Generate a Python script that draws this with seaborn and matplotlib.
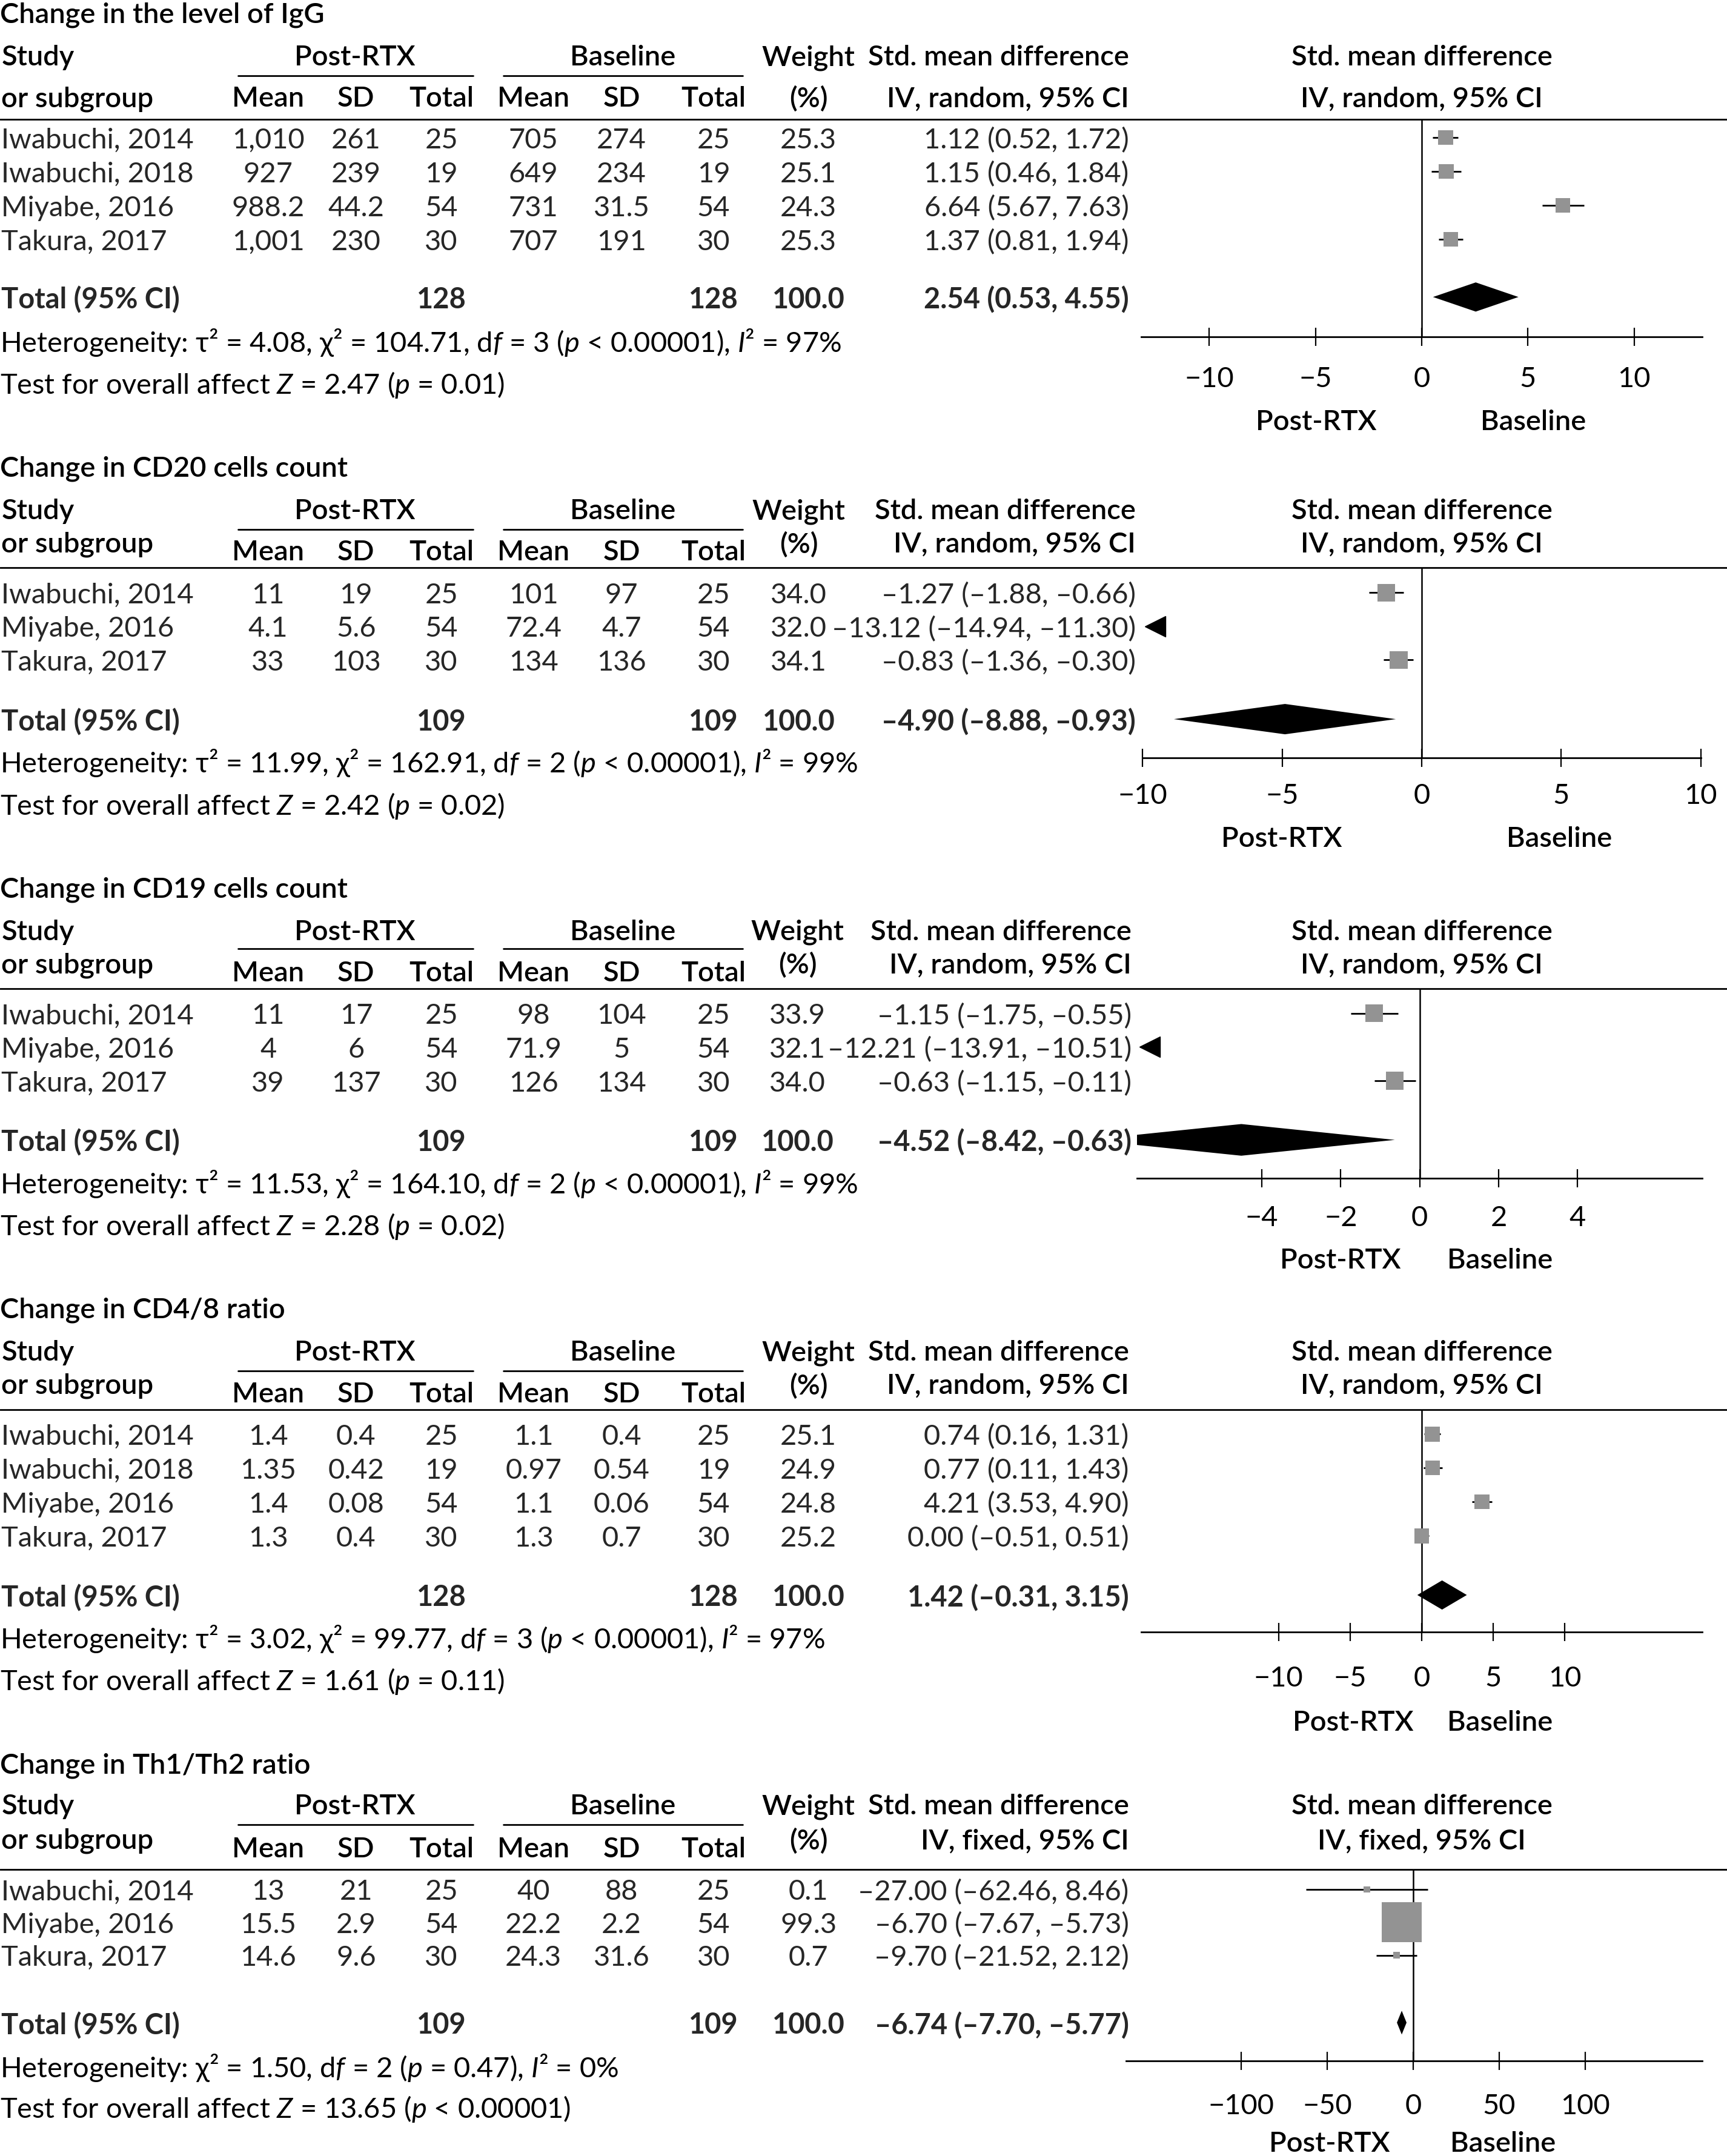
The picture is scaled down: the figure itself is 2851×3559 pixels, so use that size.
import matplotlib
matplotlib.use("Agg")
import matplotlib.pyplot as plt
import seaborn as sns
import pandas as pd
from matplotlib.transforms import blended_transform_factory, ScaledTranslation
from matplotlib.lines import Line2D

# ---------------- data ----------------
studies4 = ["Iwabuchi, 2014", "Iwabuchi, 2018", "Miyabe, 2016", "Takura, 2017"]
studies3 = ["Iwabuchi, 2014", "Miyabe, 2016", "Takura, 2017"]

# Change in the level of IgG
igg_post_mean = ["1,010", "927", "988.2", "1,001"]
igg_post_sd = ["261", "239", "44.2", "230"]
igg_post_n = [25, 19, 54, 30]
igg_base_mean = ["705", "649", "731", "707"]
igg_base_sd = ["274", "234", "31.5", "191"]
igg_base_n = [25, 19, 54, 30]
igg_weight = [25.3, 25.1, 24.3, 25.3]
igg_smd = [1.12, 1.15, 6.64, 1.37]
igg_lo = [0.52, 0.46, 5.67, 0.81]
igg_hi = [1.72, 1.84, 7.63, 1.94]
igg_total = [2.54, 0.53, 4.55]

# Change in CD20 cells count
cd20_post_mean = ["11", "4.1", "33"]
cd20_post_sd = ["19", "5.6", "103"]
cd20_post_n = [25, 54, 30]
cd20_base_mean = ["101", "72.4", "134"]
cd20_base_sd = ["97", "4.7", "136"]
cd20_base_n = [25, 54, 30]
cd20_weight = [34.0, 32.0, 34.1]
cd20_smd = [-1.27, -13.12, -0.83]
cd20_lo = [-1.88, -14.94, -1.36]
cd20_hi = [-0.66, -11.30, -0.30]
cd20_total = [-4.90, -8.88, -0.93]

# Change in CD19 cells count
cd19_post_mean = ["11", "4", "39"]
cd19_post_sd = ["17", "6", "137"]
cd19_post_n = [25, 54, 30]
cd19_base_mean = ["98", "71.9", "126"]
cd19_base_sd = ["104", "5", "134"]
cd19_base_n = [25, 54, 30]
cd19_weight = [33.9, 32.1, 34.0]
cd19_smd = [-1.15, -12.21, -0.63]
cd19_lo = [-1.75, -13.91, -1.15]
cd19_hi = [-0.55, -10.51, -0.11]
cd19_total = [-4.52, -8.42, -0.63]

# Change in CD4/8 ratio
cd48_post_mean = ["1.4", "1.35", "1.4", "1.3"]
cd48_post_sd = ["0.4", "0.42", "0.08", "0.4"]
cd48_post_n = [25, 19, 54, 30]
cd48_base_mean = ["1.1", "0.97", "1.1", "1.3"]
cd48_base_sd = ["0.4", "0.54", "0.06", "0.7"]
cd48_base_n = [25, 19, 54, 30]
cd48_weight = [25.1, 24.9, 24.8, 25.2]
cd48_smd = [0.74, 0.77, 4.21, 0.00]
cd48_lo = [0.16, 0.11, 3.53, -0.51]
cd48_hi = [1.31, 1.43, 4.90, 0.51]
cd48_total = [1.42, -0.31, 3.15]

# Change in Th1/Th2 ratio
th_post_mean = ["13", "15.5", "14.6"]
th_post_sd = ["21", "2.9", "9.6"]
th_post_n = [25, 54, 30]
th_base_mean = ["40", "22.2", "24.3"]
th_base_sd = ["88", "2.2", "31.6"]
th_base_n = [25, 54, 30]
th_weight = [0.1, 99.3, 0.7]
th_smd = [-27.00, -6.70, -9.70]
th_lo = [-62.46, -7.67, -21.52]
th_hi = [8.46, -5.73, 2.12]
th_total = [-6.74, -7.70, -5.77]

panels = [
    dict(title="Change in the level of IgG", studies=studies4,
         cols=[igg_post_mean, igg_post_sd, igg_post_n, igg_base_mean, igg_base_sd, igg_base_n],
         weight=igg_weight, smd=igg_smd, lo=igg_lo, hi=igg_hi, total=igg_total, n_tot=(128, 128),
         het=r"Heterogeneity: τ² = 4.08, χ² = 104.71, d$\mathit{f}$ = 3 ($\mathit{p}$ < 0.00001), $\mathit{I}$² = 97%",
         test=r"Test for overall affect $\mathit{Z}$ = 2.47 ($\mathit{p}$ = 0.01)",
         model="random", ticks=[-10, -5, 0, 5, 10], xlim=(-13.2, 13.2)),
    dict(title="Change in CD20 cells count", studies=studies3,
         cols=[cd20_post_mean, cd20_post_sd, cd20_post_n, cd20_base_mean, cd20_base_sd, cd20_base_n],
         weight=cd20_weight, smd=cd20_smd, lo=cd20_lo, hi=cd20_hi, total=cd20_total, n_tot=(109, 109),
         het=r"Heterogeneity: τ² = 11.99, χ² = 162.91, d$\mathit{f}$ = 2 ($\mathit{p}$ < 0.00001), $\mathit{I}$² = 99%",
         test=r"Test for overall affect $\mathit{Z}$ = 2.42 ($\mathit{p}$ = 0.02)",
         model="random", ticks=[-10, -5, 0, 5, 10], xlim=(-10, 10)),
    dict(title="Change in CD19 cells count", studies=studies3,
         cols=[cd19_post_mean, cd19_post_sd, cd19_post_n, cd19_base_mean, cd19_base_sd, cd19_base_n],
         weight=cd19_weight, smd=cd19_smd, lo=cd19_lo, hi=cd19_hi, total=cd19_total, n_tot=(109, 109),
         het=r"Heterogeneity: τ² = 11.53, χ² = 164.10, d$\mathit{f}$ = 2 ($\mathit{p}$ < 0.00001), $\mathit{I}$² = 99%",
         test=r"Test for overall affect $\mathit{Z}$ = 2.28 ($\mathit{p}$ = 0.02)",
         model="random", ticks=[-4, -2, 0, 2, 4], xlim=(-7.16, 7.16)),
    dict(title="Change in CD4/8 ratio", studies=studies4,
         cols=[cd48_post_mean, cd48_post_sd, cd48_post_n, cd48_base_mean, cd48_base_sd, cd48_base_n],
         weight=cd48_weight, smd=cd48_smd, lo=cd48_lo, hi=cd48_hi, total=cd48_total, n_tot=(128, 128),
         het=r"Heterogeneity: τ² = 3.02, χ² = 99.77, d$\mathit{f}$ = 3 ($\mathit{p}$ < 0.00001), $\mathit{I}$² = 97%",
         test=r"Test for overall affect $\mathit{Z}$ = 1.61 ($\mathit{p}$ = 0.11)",
         model="random", ticks=[-10, -5, 0, 5, 10], xlim=(-19.6, 19.6)),
    dict(title="Change in Th1/Th2 ratio", studies=studies3,
         cols=[th_post_mean, th_post_sd, th_post_n, th_base_mean, th_base_sd, th_base_n],
         weight=th_weight, smd=th_smd, lo=th_lo, hi=th_hi, total=th_total, n_tot=(109, 109),
         het=r"Heterogeneity: χ² = 1.50, d$\mathit{f}$ = 2 ($\mathit{p}$ = 0.47), $\mathit{I}$² = 0%",
         test=r"Test for overall affect $\mathit{Z}$ = 13.65 ($\mathit{p}$ < 0.00001)",
         model="fixed", ticks=[-100, -50, 0, 50, 100], xlim=(-167, 168)),
]

# ---------------- layout (reference units, 1256 x 1568) ----------------
layouts = [
    dict(title=9, h1=40, h2=70, sub=70, uline=55, line=87, row0=100, step=24.67, total=216,
         het=247, test=278, axis=245, xl=830, xr=1238, tl=275, dir=305, dirx=(957, 1115), wx=588, cix=821,
         dh=0.43),
    dict(title=339, h1=370, h2=394, sub=400, uline=385, line=413, row0=431, step=24.5, total=523,
         het=553, test=584, axis=551, xl=831, xr=1237, tl=578, dir=608, dirx=(932, 1134), wx=581, cix=826,
         dh=0.45),
    dict(title=645, h1=676, h2=700, sub=706, uline=690, line=719, row0=737, step=24.5, total=829,
         het=859, test=890, axis=857, xl=827, xr=1238, tl=885, dir=915, dirx=(975, 1091), wx=580, cix=823,
         dh=0.47),
    dict(title=951, h1=982, h2=1006, sub=1012, uline=997, line=1025, row0=1043, step=24.67, total=1160,
         het=1190, test=1221, axis=1187, xl=830, xr=1238, tl=1220, dir=1251, dirx=(984, 1091), wx=588, cix=821,
         dh=0.43),
    dict(title=1282, h1=1312, h2=1337, sub=1343, uline=1327, line=1359.6, row0=1374, step=24, total=1471,
         het=1502, test=1532, axis=1498.7, xl=819, xr=1238, tl=1531, dir=1557, dirx=(967, 1093), wx=588, cix=821,
         dh=0.36),
]

col_x = [195, 259, 321, 388, 452, 519]

sns.set_theme(style="white")
plt.rcParams["font.family"] = ["Lato", "DejaVu Sans"]
plt.rcParams["mathtext.fontset"] = "custom"
plt.rcParams["mathtext.rm"] = "Lato"
plt.rcParams["mathtext.it"] = "Lato:italic"
plt.rcParams["mathtext.bf"] = "Lato:bold"

W, H = 1256, 1568
FS = 33.8
UNIT_PT = 2851 / W * 0.72  # points per reference unit
DROP = 2.0                 # text centre correction, reference units
GREY = "#939393"

fig = plt.figure(figsize=(28.51, 35.59), dpi=100, facecolor="white")
drop = ScaledTranslation(0, -DROP * UNIT_PT / 72, fig.dpi_scale_trans)


def fx(x):
    return x / W


def fy(y):
    return 1 - y / H


def num(v):
    s = f"{v:.2f}"
    return s.replace("-", "\u2013")


def hline(x0, x1, y, lw=2.0):
    fig.add_artist(Line2D([fx(x0), fx(x1)], [fy(y), fy(y)], transform=fig.transFigure,
                          color="black", lw=lw))


def ftext(x, y, s, ha="left", weight="normal"):
    fig.text(fx(x), fy(y + DROP), s, ha=ha, va="center", fontsize=FS, fontweight=weight,
             color="black")


for p, lay in zip(panels, layouts):
    n = len(p["studies"])
    row0, step = lay["row0"], lay["step"]
    ax = fig.add_axes([fx(lay["xl"]), fy(lay["axis"]), (lay["xr"] - lay["xl"]) / W,
                       (lay["axis"] - lay["line"]) / H])
    ax.patch.set_visible(False)
    tr = blended_transform_factory(fig.transFigure, ax.transData) + drop
    rows = list(range(n))
    trow = (lay["total"] - row0) / step

    # headers
    ftext(0, lay["title"], p["title"], weight="semibold")
    ftext(1, lay["h1"], "Study", weight="semibold")
    ftext(1, lay["h2"], "or subgroup", weight="semibold")
    ftext(258, lay["h1"], "Post-RTX", ha="center", weight="semibold")
    ftext(453, lay["h1"], "Baseline", ha="center", weight="semibold")
    for x, s in zip(col_x, ["Mean", "SD", "Total", "Mean", "SD", "Total"]):
        ftext(x, lay["sub"], s, ha="center", weight="semibold")
    ftext(lay["wx"], lay["h1"], "Weight", ha="center", weight="semibold")
    ftext(lay["wx"], lay["h2"], "(%)", ha="center", weight="semibold")
    ci_head = f"IV, {p['model']}, 95% CI"
    ftext(lay["cix"], lay["h1"], "Std. mean difference", ha="right", weight="semibold")
    ftext(lay["cix"], lay["h2"], ci_head, ha="right", weight="semibold")
    ftext(1034, lay["h1"], "Std. mean difference", ha="center", weight="semibold")
    ftext(1034, lay["h2"], ci_head, ha="center", weight="semibold")
    hline(173, 344, lay["uline"])
    hline(366, 540, lay["uline"])
    hline(0, W, lay["line"])

    # study rows
    for i in rows:
        ax.text(fx(1), i, p["studies"][i], transform=tr, ha="left", va="center", fontsize=FS)
        for x, col in zip(col_x, p["cols"]):
            ax.text(fx(x), i, str(col[i]), transform=tr, ha="center", va="center", fontsize=FS)
        ax.text(fx(lay["wx"]), i, f"{p['weight'][i]:.1f}", transform=tr, ha="center",
                va="center", fontsize=FS)
        ax.text(fx(lay["cix"]), i, f"{num(p['smd'][i])} ({num(p['lo'][i])}, {num(p['hi'][i])})",
                transform=tr, ha="right", va="center", fontsize=FS)

    # total row
    est, tlo, thi = p["total"]
    ax.text(fx(1), trow, "Total (95% CI)", transform=tr, ha="left", va="center", fontsize=FS,
            fontweight="bold")
    ax.text(fx(col_x[2]), trow, str(p["n_tot"][0]), transform=tr, ha="center", va="center",
            fontsize=FS, fontweight="bold")
    ax.text(fx(col_x[5]), trow, str(p["n_tot"][1]), transform=tr, ha="center", va="center",
            fontsize=FS, fontweight="bold")
    ax.text(fx(lay["wx"]), trow, "100.0", transform=tr, ha="center", va="center", fontsize=FS,
            fontweight="bold")
    ax.text(fx(lay["cix"]), trow, f"{num(est)} ({num(tlo)}, {num(thi)})", transform=tr,
            ha="right", va="center", fontsize=FS, fontweight="bold")

    ftext(0, lay["het"], p["het"])
    ftext(0, lay["test"], p["test"])

    # forest plot
    ax.set_xlim(p["xlim"])
    ax.axvline(0, color="black", lw=1.8, zorder=1)
    ax.hlines(rows, p["lo"], p["hi"], color="black", lw=2.0, zorder=2)
    df = pd.DataFrame({"smd": p["smd"], "row": rows, "weight": p["weight"]})
    sizes = {w: ((10 + 0.57 * w) * 0.72) ** 2 for w in p["weight"]}
    sns.scatterplot(data=df, x="smd", y="row", size="weight", sizes=sizes, marker="s",
                    color=GREY, linewidth=0, legend=False, ax=ax, zorder=3)
    for i in rows:
        if p["smd"][i] < p["xlim"][0]:
            ax.plot([0.022], [i], marker="<", ms=24, color="black", linestyle="none",
                    transform=blended_transform_factory(ax.transAxes, ax.transData), clip_on=False)
    # diamonds are drawn at least ~7 reference units wide, as in the source software
    units_per_ref = (p["xlim"][1] - p["xlim"][0]) / (lay["xr"] - lay["xl"])
    half_min = 3.5 * units_per_ref
    dlo = min(tlo, est - half_min)
    dhi = max(thi, est + half_min)
    h = lay["dh"]
    ax.fill([dlo, est, dhi, est], [trow, trow - h, trow, trow + h], color="black", lw=0, zorder=4)

    ax.set_ylim((lay["axis"] - row0) / step, (lay["line"] - row0) / step)
    ax.set_xlabel("")
    ax.set_ylabel("")
    ax.set_yticks([])
    ax.set_xticks(p["ticks"])
    for side in ["left", "right", "top"]:
        ax.spines[side].set_visible(False)
    ax.spines["bottom"].set_linewidth(2.0)
    ax.spines["bottom"].set_color("black")
    tick_len = 22
    pad = (lay["tl"] - lay["axis"]) * UNIT_PT - 0.40 * FS - tick_len / 2
    ax.tick_params(axis="x", direction="inout", length=tick_len, width=1.6, pad=pad,
                   labelsize=FS, colors="black", bottom=True)

    ftext(lay["dirx"][0], lay["dir"], "Post-RTX", ha="center", weight="semibold")
    ftext(lay["dirx"][1], lay["dir"], "Baseline", ha="center", weight="semibold")

fig.savefig("out.png", dpi=100, facecolor="white")
